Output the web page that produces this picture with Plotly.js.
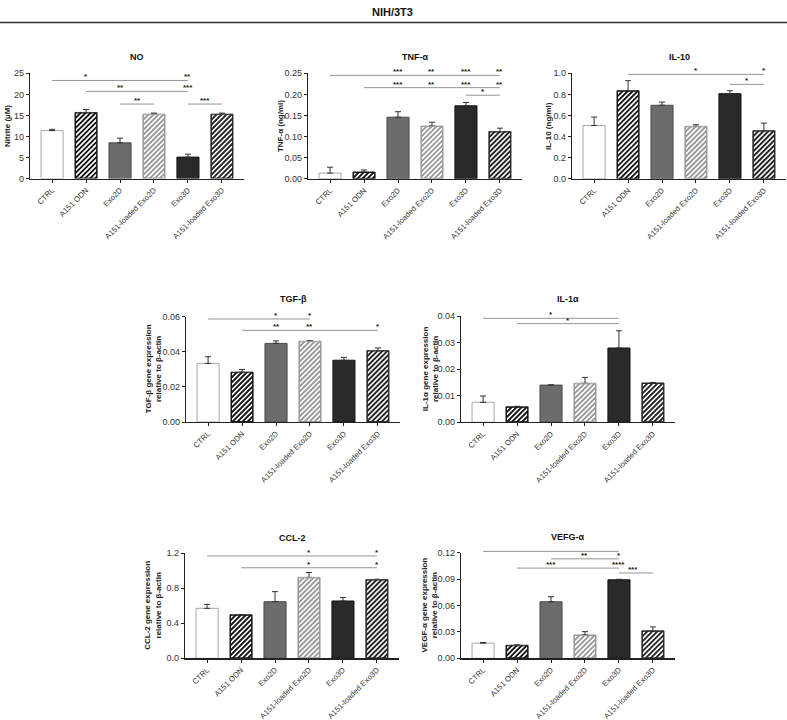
<!DOCTYPE html>
<html><head><meta charset="utf-8">
<script src="https://cdn.plot.ly/plotly-3.0.1.min.js"></script>
<style>body{margin:0;background:#fff}#c{width:787px;height:720px}</style>
</head><body><div id="c"></div>
<script>
const categories = ['CTRL','A151 ODN','Exo2D','A151-loaded Exo2D','Exo3D','A151-loaded Exo3D'];
const figureTitle = 'NIH/3T3';

const noValues = [11.4, 15.7, 8.5, 15.3, 5.1, 15.3];
const noErrors = [0.3, 0.7, 1.1, 0.25, 0.7, 0.25];
const tnfValues = [0.0135, 0.016, 0.146, 0.125, 0.173, 0.112];
const tnfErrors = [0.014, 0.005, 0.013, 0.009, 0.008, 0.008];
const il10Values = [0.505, 0.835, 0.697, 0.497, 0.807, 0.456];
const il10Errors = [0.08, 0.095, 0.03, 0.015, 0.028, 0.072];
const tgfValues = [0.0334, 0.0284, 0.0448, 0.0460, 0.0352, 0.0407];
const tgfErrors = [0.0038, 0.0015, 0.0014, 0.0003, 0.0016, 0.0015];
const il1Values = [0.0075, 0.0058, 0.0140, 0.0147, 0.0280, 0.0148];
const il1Errors = [0.0024, 0.0002, 0.0001, 0.0022, 0.0065, 0.0002];
const ccl2Values = [0.571, 0.497, 0.647, 0.925, 0.655, 0.900];
const ccl2Errors = [0.045, 0.003, 0.115, 0.055, 0.04, 0.004];
const vegfValues = [0.0172, 0.0148, 0.0642, 0.0265, 0.0892, 0.0312];
const vegfErrors = [0.0008, 0.0004, 0.0058, 0.0038, 0.0006, 0.0045];

// significance brackets: [from, to, y]; stars: [x, y, label]
const noBrackets = [[0,4,23.3],[1,4,20.7],[2,3,17.7],[4,5,17.7]];
const noStars = [[1,23.3,'*'],[4,23.3,'**'],[2,20.7,'**'],[4,20.7,'***'],[2.5,17.7,'**'],[4.5,17.7,'***']];
const tnfBrackets = [[0,5,0.245],[1,5,0.216],[4,5,0.198]];
const tnfStars = [[2,0.245,'***'],[3,0.245,'**'],[4,0.245,'***'],[5,0.245,'**'],[2,0.216,'***'],[3,0.216,'**'],[4,0.216,'***'],[5,0.216,'**'],[4.5,0.198,'*']];
const il10Brackets = [[1,5,0.99],[4,5,0.895]];
const il10Stars = [[3,0.99,'*'],[5,0.99,'*'],[4.5,0.895,'*']];
const tgfBrackets = [[0,3,0.0587],[1,5,0.0522]];
const tgfStars = [[2,0.0587,'*'],[3,0.0587,'*'],[2,0.0522,'**'],[3,0.0522,'**'],[5,0.0522,'*']];
const il1Brackets = [[0,4,0.0392],[1,4,0.0372]];
const il1Stars = [[2,0.0392,'*'],[2.5,0.0372,'*']];
const ccl2Brackets = [[0,5,1.17],[1,5,1.035]];
const ccl2Stars = [[3,1.17,'*'],[5,1.17,'*'],[3,1.035,'*'],[5,1.035,'*']];
const vegfBrackets = [[0,4,0.1215],[2,4,0.113],[1,4,0.1025],[4,5,0.097]];
const vegfStars = [[2,0.1215,'***'],[4,0.1215,'****'],[3,0.113,'**'],[4,0.113,'*'],[2,0.1025,'***'],[4,0.1025,'****'],[4.4,0.097,'***']];

const panels = [
  {title:'NO', ytitle:'Nitrite (µM)', vals:noValues, errs:noErrors, br:noBrackets, st:noStars, x:[30,244], y:[73.3,178.6], range:[0,25], dtick:5, fmt:'d', titleY:57, tx:8},
  {title:'TNF-α', ytitle:'TNF-α (ng/ml)', vals:tnfValues, errs:tnfErrors, br:tnfBrackets, st:tnfStars, x:[308,522], y:[73.3,178.8], range:[0,0.25], dtick:0.05, fmt:'.2f', titleY:57, tx:280},
  {title:'IL-10', ytitle:'IL-10 (ng/ml)', vals:il10Values, errs:il10Errors, br:il10Brackets, st:il10Stars, x:[572,786], y:[73.3,178.8], range:[0,1], dtick:0.2, fmt:'.1f', titleY:57, tx:548},
  {title:'TGF-β', ytitle:'TGF-β gene expression<br>relative to β-actin', vals:tgfValues, errs:tgfErrors, br:tgfBrackets, st:tgfStars, x:[186,400], y:[316.7,422], range:[0,0.06], dtick:0.02, fmt:'.2f', titleY:299, tx:153},
  {title:'IL-1α', ytitle:'IL-1α gene expression<br>relative to β-actin', vals:il1Values, errs:il1Errors, br:il1Brackets, st:il1Stars, x:[461,675], y:[316.2,422.2], range:[0,0.04], dtick:0.01, fmt:'.2f', titleY:299, tx:430},
  {title:'CCL-2', ytitle:'CCL-2 gene expression<br>relative to β-actin', vals:ccl2Values, errs:ccl2Errors, br:ccl2Brackets, st:ccl2Stars, x:[185,399], y:[553.3,658.3], range:[0,1.2], dtick:0.4, fmt:'.1f', titleY:538, tx:153},
  {title:'VEFG-α', ytitle:'VEGF-α gene expression<br>relative to β-actin', vals:vegfValues, errs:vegfErrors, br:vegfBrackets, st:vegfStars, x:[461,675], y:[552.7,658.3], range:[0,0.12], dtick:0.03, fmt:'.2f', titleY:537, tx:429}
];

const W = 787, H = 720;
const BARW = 0.65, XR = [-0.65, 5.65];
const fillColors = ['#ffffff','#ffffff','#6c6c6c','#ffffff','#2a2a2a','#ffffff'];
const lineColors = ['#a8a8a8','#151515','#4a4a4a','#9a9a9a','#151515','#262626'];
const hatchColors = [null,'#151515',null,'#9a9a9a',null,'#262626'];
const font = 'Liberation Sans, Arial, sans-serif';

function hatchSvg(w, h, color) {
  const period = 5, sw = 1.9;
  let d = '';
  for (let x0 = -h - period; x0 < w + period; x0 += period) {
    d += 'M' + x0.toFixed(2) + ',' + (h + 1).toFixed(2) + 'L' + (x0 + h + 2).toFixed(2) + ',-1';
  }
  const svg = '<svg xmlns="http://www.w3.org/2000/svg" width="' + w.toFixed(2) + '" height="' + h.toFixed(2) +
    '" viewBox="0 0 ' + w.toFixed(2) + ' ' + h.toFixed(2) + '" preserveAspectRatio="none">' +
    '<rect x="0" y="0" width="' + w.toFixed(2) + '" height="' + h.toFixed(2) + '" fill="#ffffff"/>' +
    '<path d="' + d + '" stroke="' + color + '" stroke-width="' + sw + '" fill="none"/>' +
    '<rect x="0.5" y="0.5" width="' + (w - 1).toFixed(2) + '" height="' + (h - 1).toFixed(2) + '" fill="none" stroke="' + color + '" stroke-width="1"/>' +
    '</svg>';
  return 'data:image/svg+xml;base64,' + btoa(unescape(encodeURIComponent(svg)));
}

const traces = [];
const layout = {
  width: W, height: H, margin:{l:0,r:0,t:0,b:0}, showlegend:false,
  paper_bgcolor:'#fff', plot_bgcolor:'rgba(0,0,0,0)',
  font:{family:font, size:9, color:'#222'},
  annotations: [], shapes: [], images: []
};
layout.annotations.push({text:figureTitle, xref:'paper', yref:'paper', x:392/W, y:1-12/H, showarrow:false, xanchor:'center', yanchor:'middle', font:{family:font, size:11, color:'#111', weight:'bold'}});
layout.shapes.push({type:'line', xref:'paper', yref:'paper', x0:0, x1:1, y0:1-22.5/H, y1:1-22.5/H, line:{color:'#333', width:1.3}});

const xs = categories.map((c,i)=>i);
const NP = panels.length;
panels.forEach((p, k) => {
  const n = k+1;
  const xa = 'x'+(n===1?'':n), ya = 'y'+(n===1?'':n);
  const bn = n + NP;
  const bxa = 'x'+bn, bya = 'y'+bn;
  traces.push({
    type:'bar', x: xs, y: p.vals, xaxis: xa, yaxis: ya, width: BARW,
    marker:{color: fillColors, line:{color: lineColors, width:1}},
    error_y:{type:'data', symmetric:false, array:p.errs, arrayminus:p.errs.map(()=>0), color:'#333', thickness:1, width:3},
    hoverinfo:'none'
  });
  const pxX = (p.x[1]-p.x[0]) / (XR[1]-XR[0]);
  const pxY = (p.y[1]-p.y[0]) / (p.range[1]-p.range[0]);
  p.vals.forEach((v, i) => {
    if (!hatchColors[i]) return;
    const wpx = BARW * pxX, hpx = v * pxY;
    layout.images.push({source: hatchSvg(wpx, hpx, hatchColors[i]), xref:xa, yref:ya,
      x: i - BARW/2, y: v, sizex: BARW, sizey: v, sizing:'stretch', xanchor:'left', yanchor:'top', layer:'above'});
  });
  p.br.forEach(b => {
    traces.push({type:'scatter', mode:'lines', x:[b[0], b[1]], y:[b[2], b[2]], xaxis:bxa, yaxis:bya, line:{color:'#8a8a8a', width:0.9}, hoverinfo:'none'});
  });
  p.st.forEach(s => {
    layout.annotations.push({text:s[2], xref:xa, yref:ya, x:s[0], y:s[1], showarrow:false, xanchor:'center', yanchor:'bottom', yshift:-3, font:{family:font, size:8, color:'#222', weight:'bold'}});
  });
  const xd = [p.x[0]/W, p.x[1]/W];
  const yd = [1-p.y[1]/H, 1-p.y[0]/H];
  layout['xaxis'+(n===1?'':n)] = {
    domain:xd, anchor: ya, range:XR, fixedrange:true,
    tickmode:'array', tickvals: xs, ticktext: categories, tickangle:-45,
    showline:true, linecolor:'#222', linewidth:1.2, ticks:'outside', ticklen:3, tickcolor:'#222',
    showgrid:false, zeroline:false, tickfont:{family:font, size:7.7, color:'#333'}
  };
  layout['yaxis'+(n===1?'':n)] = {
    domain:yd, anchor: xa, range:p.range, dtick:p.dtick, tick0:0, tickformat:p.fmt,
    showline:true, linecolor:'#222', linewidth:1.2, ticks:'outside', ticklen:3, tickcolor:'#222',
    showgrid:false, zeroline:false, tickfont:{family:font, size:9, color:'#333'}
  };
  const extra = 18;
  const top = p.y[0] - extra;
  const r1 = p.range[1] * (p.y[1] - top) / (p.y[1] - p.y[0]);
  layout['xaxis'+bn] = {domain:xd, anchor:bya, range:XR, visible:false, fixedrange:true};
  layout['yaxis'+bn] = {domain:[1-p.y[1]/H, 1-top/H], anchor:bxa, range:[0, r1], visible:false, fixedrange:true};
  layout.annotations.push({text:p.title, xref:'paper', yref:'paper', x:((p.x[0]+p.x[1])/2)/W, y:1-p.titleY/H, showarrow:false, xanchor:'center', yanchor:'middle', font:{family:font, size:9, color:'#111', weight:'bold'}});
  layout.annotations.push({text:p.ytitle, xref:'paper', yref:'paper', x:p.tx/W, y:1-((p.y[0]+p.y[1])/2)/H, textangle:-90, showarrow:false, xanchor:'center', yanchor:'middle', font:{family:font, size:8, color:'#222', weight:'bold'}});
});

Plotly.newPlot('c', traces, layout, {staticPlot:true, displayModeBar:false});
</script></body></html>
